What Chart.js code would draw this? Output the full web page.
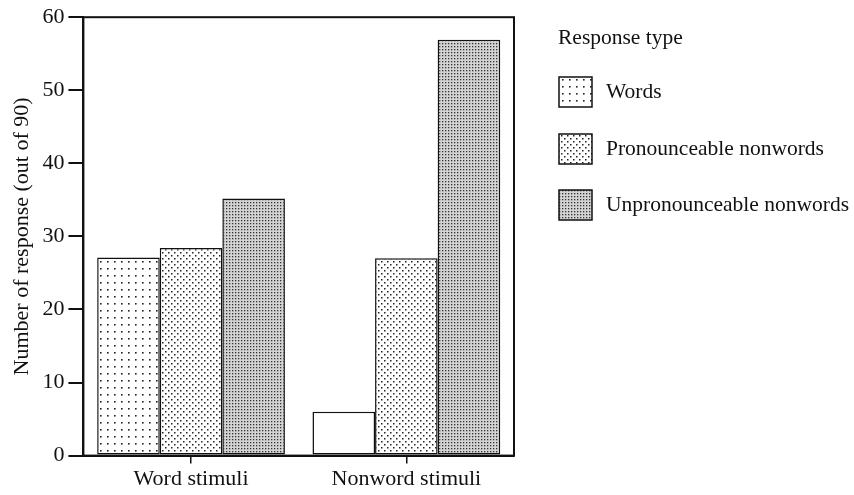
<!DOCTYPE html>
<html>
<head>
<meta charset="utf-8">
<script src="https://cdn.jsdelivr.net/npm/chart.js@4.4.0/dist/chart.umd.min.js"></script>
<style>
  html, body { margin: 0; padding: 0; background: #fff; }
</style>
</head>
<body>
<canvas id="c" width="854" height="495"></canvas>
<script>
// ── Data ──────────────────────────────────────────────────────────────
const categories   = ["Word stimuli", "Nonword stimuli"];
const seriesNames  = ["Words", "Pronounceable nonwords", "Unpronounceable nonwords"];
const wordsVals    = [27.1, 6.0];
const pronVals     = [28.4, 27.0];
const unpronVals   = [35.2, 56.9];
const yMin = 0, yMax = 60, yStep = 10;

const SERIF = "'Liberation Serif', 'DejaVu Serif', serif";
const INK = "#111";
const FS = 22;

const canvas = document.getElementById("c");
const ctx = canvas.getContext("2d");

// ── Dot fill patterns (scanned halftone look) ─────────────────────────
function dotPattern(size, dots, dotSize, bg, ink) {
  const t = document.createElement("canvas");
  t.width = size; t.height = size;
  const g = t.getContext("2d");
  g.fillStyle = bg; g.fillRect(0, 0, size, size);
  g.fillStyle = ink || "#222";
  dots.forEach(([x, y]) => g.fillRect(x, y, dotSize, dotSize));
  return ctx.createPattern(t, "repeat");
}

const fills = [
  dotPattern(7, [[2, 2]], 1.6, "#fff"),
  dotPattern(6, [[0, 0], [3, 3]], 1.5, "#fff"),
  dotPattern(3, [[1, 1]], 1.3, "#d4d4d4", "#333"),
];

// ── Frame around plot area ────────────────────────────────────────────
const framePlugin = {
  id: "frame",
  afterDatasetsDraw(chart) {
    const a = chart.chartArea, g = chart.ctx;
    g.save();
    g.strokeStyle = INK;
    g.lineWidth = 2;
    g.strokeRect(a.left, a.top, a.right - a.left, a.bottom - a.top);
    g.restore();
  },
};

// ── Legend on the right ───────────────────────────────────────────────
const legendPlugin = {
  id: "sideLegend",
  afterDraw(chart) {
    const g = chart.ctx;
    g.save();
    g.font = "21.5px " + SERIF;
    g.fillStyle = INK;
    g.textBaseline = "middle";
    g.fillText("Response type", 558, 38);
    const ys = [92, 149, 205];
    seriesNames.forEach((name, i) => {
      const y = ys[i];
      g.fillStyle = fills[i];
      g.fillRect(559, y - 15, 33, 30);
      g.strokeStyle = INK;
      g.lineWidth = 1.5;
      g.strokeRect(559, y - 15, 33, 30);
      g.fillStyle = INK;
      g.fillText(name, 606, y);
    });
    g.restore();
  },
};

function makeSet(label, data, fill) {
  return {
    label, data,
    backgroundColor: fill,
    borderColor: INK,
    borderWidth: 1.5,
    borderSkipped: false,
    barPercentage: 1.0,
    categoryPercentage: 0.872,
  };
}

new Chart(canvas, {
  type: "bar",
  data: {
    labels: categories,
    datasets: [
      // the nonword "Words" bar is printed unshaded in the source
      makeSet(seriesNames[0], wordsVals, [fills[0], "#fff"]),
      makeSet(seriesNames[1], pronVals, fills[1]),
      makeSet(seriesNames[2], unpronVals, fills[2]),
    ],
  },
  options: {
    responsive: false,
    animation: false,
    devicePixelRatio: 1,
    layout: { padding: { left: 4, right: 340, top: -2, bottom: 1 } },
    plugins: {
      legend: { display: false },
      tooltip: { enabled: false },
    },
    scales: {
      x: {
        grid: { offset: false, drawOnChartArea: false, drawTicks: true, tickLength: 8, color: INK, lineWidth: 1.5 },
        border: { display: true, color: INK, width: 2 },
        ticks: { color: INK, font: { family: SERIF, size: FS }, padding: 2 },
      },
      y: {
        min: yMin, max: yMax,
        grid: { drawOnChartArea: false, drawTicks: true, tickLength: 15, color: INK, lineWidth: 2 },
        border: { display: true, color: INK, width: 2 },
        ticks: { stepSize: yStep, color: INK, font: { family: SERIF, size: FS }, padding: 4 },
        title: {
          display: true,
          text: "Number of response (out of 90)",
          color: INK,
          font: { family: SERIF, size: FS },
          padding: { top: 5, bottom: 3 },
        },
      },
    },
  },
  plugins: [framePlugin, legendPlugin],
});
</script>
</body>
</html>
